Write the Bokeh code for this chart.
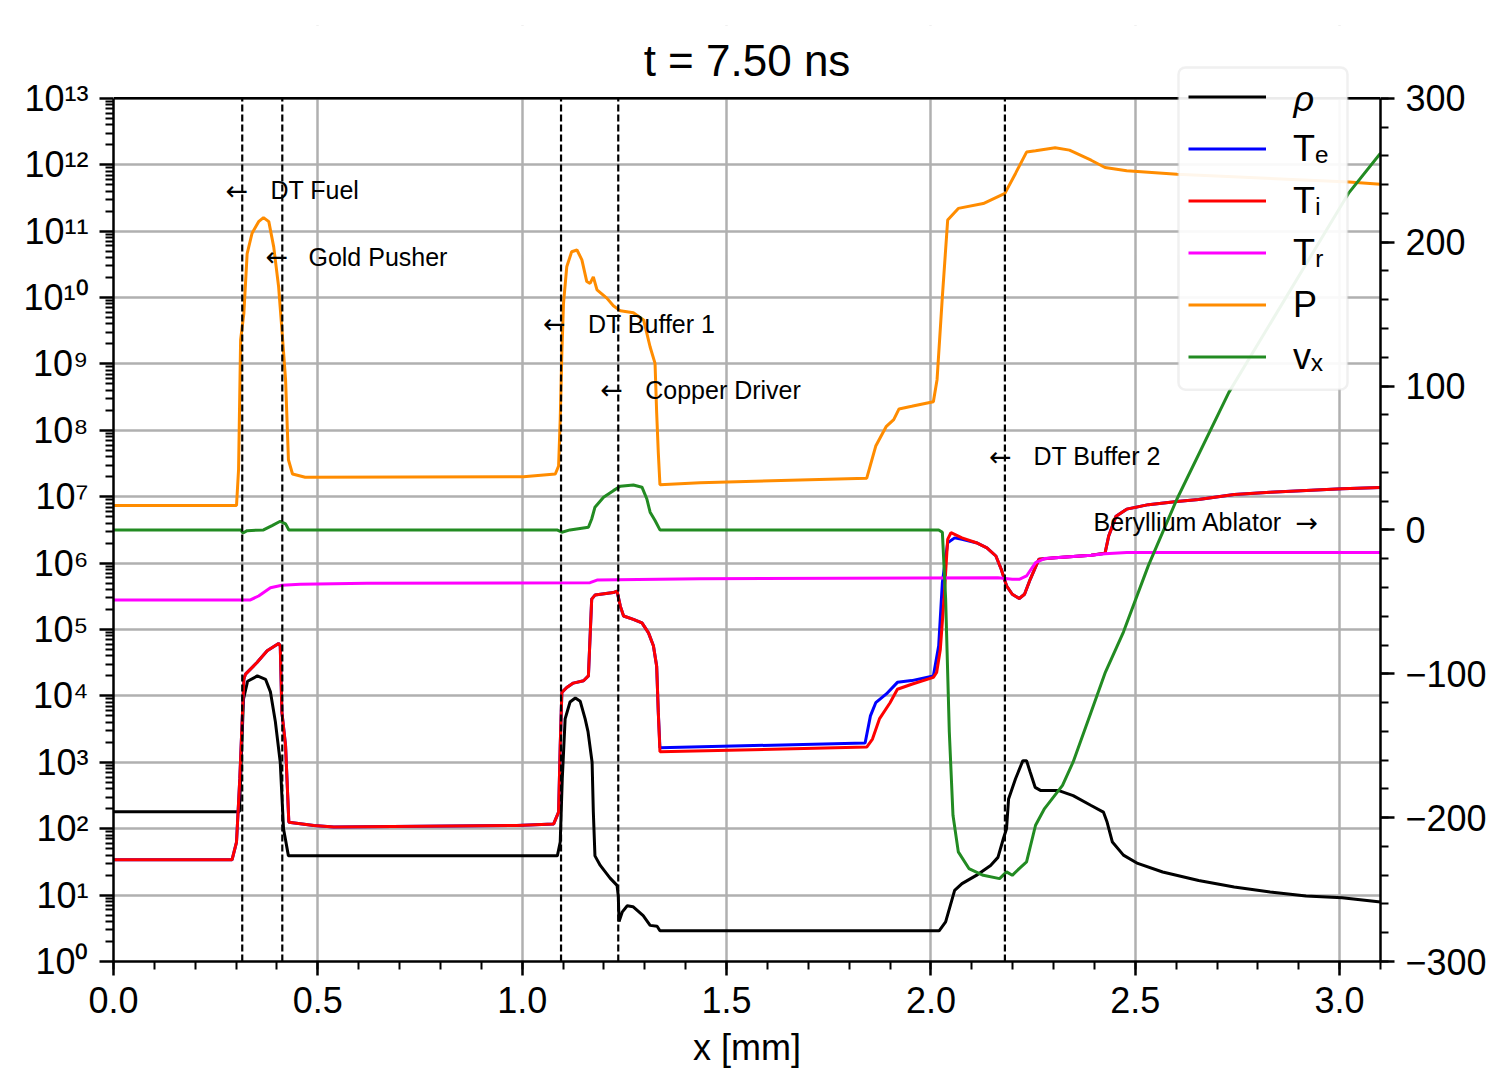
from bokeh.plotting import figure
from bokeh.models import (Range1d, LinearAxis, LinearScale, FixedTicker, Span, Legend,
                          LegendItem, BoxAnnotation, Label)
from bokeh.core.properties import value
from bokeh.embed import file_html
from bokeh.resources import INLINE

# ---------------- data ----------------
rho_x = [0.0, 0.298, 0.308, 0.318, 0.328, 0.352, 0.372, 0.384, 0.396, 0.408, 0.416, 0.428,
         1.086, 1.093, 1.098, 1.105, 1.117, 1.130, 1.142, 1.154, 1.161, 1.171, 1.174, 1.178,
         1.191, 1.215, 1.232, 1.235, 1.237, 1.245, 1.257, 1.271, 1.296, 1.313, 1.330, 1.337,
         2.020, 2.036, 2.058, 2.076, 2.111, 2.146, 2.164, 2.177, 2.185, 2.190, 2.207, 2.225,
         2.234, 2.243, 2.255, 2.269, 2.313, 2.348, 2.392, 2.422, 2.431, 2.444, 2.471, 2.506,
         2.567, 2.655, 2.742, 2.830, 2.918, 3.006, 3.100]
rho_y = [180, 180, 180, 8.9e3, 1.66e4, 2.0e4, 1.78e4, 1.15e4, 4.1e3, 1.0e3, 100, 39,
         39, 63, 560, 4.5e3, 8.1e3, 9.3e3, 8.3e3, 4.5e3, 2.9e3, 1.0e3, 180, 39,
         28, 18, 14, 9.8, 4.0, 5.6, 6.9, 6.7, 4.9, 3.5, 3.4, 2.9,
         2.9, 3.95, 11.8, 14.9, 19.8, 28, 37, 70, 100, 280, 565, 1.06e3,
         1.06e3, 710, 420, 375, 375, 315, 224, 178, 126, 63, 40, 30,
         22.3, 16.6, 13.2, 11.1, 9.7, 9.1, 7.9]

Ti_x = [0.0, 0.290, 0.301, 0.309, 0.319, 0.323, 0.351, 0.376, 0.404, 0.408, 0.412, 0.421,
        0.429, 0.490, 0.539, 0.987, 1.077, 1.089, 1.093, 1.097, 1.109, 1.125, 1.150, 1.162,
        1.170, 1.178, 1.223, 1.232, 1.240, 1.248, 1.272, 1.293, 1.309, 1.321, 1.329, 1.333,
        1.337, 1.843, 1.857, 1.874, 1.900, 1.918, 1.953, 2.006, 2.014, 2.023, 2.032, 2.041,
        2.049, 2.076, 2.111, 2.137, 2.159, 2.172, 2.185, 2.199, 2.216, 2.229, 2.243, 2.264,
        2.304, 2.392, 2.426, 2.435, 2.453, 2.479, 2.532, 2.602, 2.655, 2.742, 2.830, 3.006,
        3.100]
Ti_y = [34, 34, 63, 562, 1.79e4, 2.13e4, 3.18e4, 4.79e4, 6.17e4, 5.66e4, 5.7e3, 1.78e3,
        125, 112, 106, 112, 118, 178, 1.78e3, 1.13e4, 1.34e4, 1.56e4, 1.69e4, 2.0e4,
        2.87e5, 3.3e5, 3.6e5, 3.8e5, 2.25e5, 1.6e5, 1.42e5, 1.26e5, 8.9e4, 5.7e4, 2.8e4, 5.6e3,
        1.44e3, 1.7e3, 2.24e3, 4.5e3, 7.9e3, 1.26e4, 1.5e4, 1.9e4, 2.25e4, 5.0e4, 2.87e5, 2.28e6,
        2.87e6, 2.4e6, 2.03e6, 1.7e6, 1.28e6, 8.1e5, 4.55e5, 3.4e5, 2.93e5, 3.4e5, 5.7e5, 1.14e6,
        1.2e6, 1.31e6, 1.41e6, 2.56e6, 5.1e6, 6.5e6, 7.6e6, 8.5e6, 9.1e6, 1.08e7, 1.17e7, 1.32e7,
        1.38e7]

Te_x = [0.0, 0.290, 0.301, 0.309, 0.319, 0.323, 0.351, 0.376, 0.404, 0.408, 0.412, 0.421,
        0.429, 0.490, 0.539, 0.987, 1.077, 1.089, 1.093, 1.097, 1.109, 1.125, 1.150, 1.162,
        1.170, 1.178, 1.223, 1.232, 1.240, 1.248, 1.272, 1.293, 1.309, 1.321, 1.329, 1.333,
        1.337, 1.839, 1.852, 1.865, 1.891, 1.918, 1.953, 2.006, 2.019, 2.028, 2.041, 2.058,
        2.076, 2.111, 2.137, 2.159, 2.172, 2.185, 2.199, 2.216, 2.229, 2.243, 2.264,
        2.304, 2.392, 2.426, 2.435, 2.453, 2.479, 2.532, 2.602, 2.655, 2.742, 2.830, 3.006,
        3.100]
Te_y = [34, 34, 63, 562, 1.79e4, 2.13e4, 3.18e4, 4.79e4, 6.17e4, 5.66e4, 5.7e3, 1.78e3,
        125, 112, 106, 112, 118, 178, 1.78e3, 1.13e4, 1.34e4, 1.56e4, 1.69e4, 2.0e4,
        2.87e5, 3.3e5, 3.6e5, 3.8e5, 2.25e5, 1.6e5, 1.42e5, 1.26e5, 8.9e4, 5.7e4, 2.8e4, 5.6e3,
        1.66e3, 1.95e3, 5.0e3, 7.9e3, 1.07e4, 1.6e4, 1.7e4, 2.0e4, 5.7e4, 5.1e5, 2.03e6, 2.4e6,
        2.28e6, 2.03e6, 1.7e6, 1.28e6, 8.1e5, 4.55e5, 3.4e5, 2.93e5, 3.4e5, 5.7e5, 1.14e6,
        1.2e6, 1.31e6, 1.41e6, 2.56e6, 5.1e6, 6.5e6, 7.6e6, 8.5e6, 9.1e6, 1.08e7, 1.17e7, 1.32e7,
        1.38e7]

Tr_x = [0.0, 0.335, 0.355, 0.384, 0.412, 0.457, 0.620, 1.166, 1.183, 1.435,
        2.164, 2.199, 2.216, 2.234, 2.256, 2.278, 2.392, 2.426, 2.479, 3.100]
Tr_y = [2.79e5, 2.79e5, 3.2e5, 4.27e5, 4.63e5, 4.79e5, 4.97e5, 5.08e5, 5.56e5, 5.83e5,
        6.0e5, 5.7e5, 5.7e5, 6.4e5, 1.02e6, 1.17e6, 1.31e6, 1.38e6, 1.44e6, 1.45e6]

P_x = [0.0, 0.301, 0.306, 0.311, 0.319, 0.327, 0.339, 0.355, 0.367, 0.380, 0.392, 0.404,
       0.412, 0.421, 0.428, 0.438, 0.469, 1.003, 1.081, 1.089, 1.093, 1.097, 1.101, 1.109,
       1.121, 1.134, 1.146, 1.158, 1.166, 1.174, 1.183, 1.207, 1.223, 1.240, 1.272, 1.297,
       1.313, 1.325, 1.329, 1.333, 1.337, 1.435, 1.843, 1.865, 1.891, 1.909, 1.922, 1.953,
       2.006, 2.015, 2.028, 2.041, 2.067, 2.128, 2.181, 2.207, 2.234, 2.256, 2.304, 2.339,
       2.392, 2.426, 2.479, 2.602, 3.023, 3.100]
P_y = [7.4e6, 7.4e6, 2.57e7, 2.3e9, 5.8e9, 4.6e10, 9.3e10, 1.39e11, 1.6e11, 1.39e11, 5.8e10, 1.45e10,
       3.3e9, 5.8e8, 3.6e7, 2.2e7, 1.96e7, 2.0e7, 2.2e7, 2.9e7, 1.45e8, 1.45e9, 8.1e9, 2.9e10,
       4.9e10, 5.2e10, 3.7e10, 1.74e10, 1.63e10, 2.05e10, 1.3e10, 9.8e9, 7.5e9, 6.3e9, 5.9e9, 4.6e9,
       1.8e9, 1.02e9, 1.82e8, 4.6e7, 1.52e7, 1.62e7, 1.9e7, 5.8e7, 1.15e8, 1.45e8, 2.1e8, 2.3e8,
       2.7e8, 5.8e8, 1.03e10, 1.47e11, 2.2e11, 2.6e11, 3.7e11, 7.4e11, 1.55e12, 1.62e12, 1.8e12, 1.66e12,
       1.17e12, 9.1e11, 8.1e11, 7.2e11, 5.5e11, 5.1e11]

vx_x = [0.0, 0.311, 0.317, 0.327, 0.367, 0.388, 0.408, 0.421, 0.429, 1.085, 1.097, 1.117,
        1.162, 1.170, 1.178, 1.199, 1.223, 1.240, 1.272, 1.293, 1.305, 1.313, 1.325, 1.337,
        2.019, 2.028, 2.036, 2.045, 2.054, 2.067, 2.093, 2.128, 2.168, 2.185, 2.199, 2.216,
        2.234, 2.256, 2.278, 2.322, 2.348, 2.392, 2.427, 2.471, 2.532, 2.602, 2.729, 3.023,
        3.100]
vx_y = [0, 0, -2.1, -0.5, 0, 3.0, 6.0, 4.2, 0, 0, -1.6, 0,
        1.9, 7.6, 15.8, 22.7, 27.3, 30.3, 31.2, 29.7, 21.5, 12.3, 6.5, 0,
        0, -1.6, -47.9, -140.5, -198.4, -223.8, -235.4, -240.1, -242.4, -237.7, -240.1, -235.4,
        -230.8, -205.3, -193.7, -177.6, -161.3, -126.6, -98.8, -71.0, -24.8, 21.5, 95.6, 234.5,
        261.8]

# material boundaries (dashed lines)
boundary_x = [0.315, 0.413, 1.095, 1.235, 2.181]

# region annotations
ann_names = ["DT Fuel", "Gold Pusher", "DT Buffer 1", "Copper Driver", "DT Buffer 2"]
ann_arrow_x = [0.274, 0.372, 1.051, 1.191, 2.142]
ann_text_x = [0.384, 0.477, 1.161, 1.301, 2.251]
ann_y = [4.1e11, 4.1e10, 4.0e9, 4.1e8, 4.1e7]
abl_name = "Beryllium Ablator"
abl_text_x = 2.398
abl_arrow_x = 2.892
abl_y = 4.1e6

# ticks and labels
x_ticks = [0.0, 0.5, 1.0, 1.5, 2.0, 2.5, 3.0]
x_tick_labels = ["0.0", "0.5", "1.0", "1.5", "2.0", "2.5", "3.0"]
y_exponents = list(range(0, 14))
y_tick_labels = ["10⁰", "10¹", "10²", "10³", "10⁴", "10⁵", "10⁶", "10⁷",
                 "10⁸", "10⁹", "10¹⁰", "10¹¹", "10¹²", "10¹³"]
v_ticks = [-300, -200, -100, 0, 100, 200, 300]
v_tick_labels = ["−300", "−200", "−100", "0", "100", "200", "300"]

series_labels = ["ρ", "Tₑ", "Tᵢ", "Tᵣ", "P", "vₓ"]
series_colors = ["black", "#0000ff", "#ff0000", "#ff00ff", "#ff8c00", "#228b22"]

title_text = "t = 7.50 ns"
x_label = "x [mm]"

# ---------------- layout constants ----------------
FONT = "Liberation Sans"
W, H = 1503, 1070
B_LEFT, B_RIGHT, B_TOP, B_BOTTOM = 113, 123, 25, 107
FRAME_H = H - B_TOP - B_BOTTOM          # drawing frame (extends above the axes box)
AX_H = 865                               # height of the visible axes box
Y_LO, Y_HI = 1.0, 1e13
V_LO, V_HI = -300.0, 300.0
y_top = 10 ** (13.0 * FRAME_H / AX_H)    # range end so that 1e13 sits at the box top
v_top = V_LO + (V_HI - V_LO) * FRAME_H / AX_H

p = figure(width=W, height=H,
           x_range=Range1d(0, 3.1), y_range=Range1d(Y_LO, y_top), y_axis_type="log",
           output_backend="svg", toolbar_location=None,
           min_border_left=B_LEFT, min_border_right=B_RIGHT,
           min_border_top=B_TOP, min_border_bottom=B_BOTTOM)
p.extra_y_ranges = {"v": Range1d(V_LO, v_top)}
p.extra_y_scales = {"v": LinearScale()}

p.outline_line_color = None
p.background_fill_color = "white"
p.border_fill_color = "white"

xt = FixedTicker(ticks=x_ticks, minor_ticks=[round(i * 0.1, 1) for i in range(32)])
yt = FixedTicker(ticks=[10.0 ** e for e in y_exponents],
                 minor_ticks=[m * 10.0 ** e for e in y_exponents[:-1] for m in range(2, 10)])
vt = FixedTicker(ticks=v_ticks, minor_ticks=list(range(-300, 301, 20)))

p.xaxis.ticker = xt
p.yaxis.ticker = yt
p.yaxis.bounds = (Y_LO, Y_HI)
p.xaxis.major_label_overrides = dict(zip(x_ticks, x_tick_labels))
p.yaxis.major_label_overrides = {10.0 ** e: lab for e, lab in zip(y_exponents, y_tick_labels)}

right = LinearAxis(y_range_name="v", ticker=vt, bounds=(V_LO, V_HI))
right.major_label_overrides = dict(zip(v_ticks, v_tick_labels))
p.add_layout(right, "right")

for ax in [p.xaxis[0], p.yaxis[0], right]:
    ax.axis_line_width = 2.5
    ax.axis_line_color = "black"
    ax.major_tick_line_width = 2.5
    ax.minor_tick_line_width = 2
    ax.major_tick_line_color = "black"
    ax.minor_tick_line_color = "black"
    ax.major_tick_in = 0
    ax.major_tick_out = 14
    ax.minor_tick_in = 0
    ax.minor_tick_out = 8
    ax.major_label_text_font = FONT
    ax.major_label_text_font_size = "36px"
    ax.major_label_text_color = "black"
    ax.major_label_standoff = 8

p.yaxis.major_label_standoff = 11
p.xaxis.major_label_standoff = 11
p.xaxis.axis_label = x_label
p.xaxis.axis_label_text_font = FONT
p.xaxis.axis_label_text_font_size = "36px"
p.xaxis.axis_label_text_font_style = "normal"
p.xaxis.axis_label_text_color = "black"
p.xaxis.axis_label_standoff = 11

p.xgrid.ticker = xt
p.ygrid.ticker = yt
for g in [p.xgrid[0], p.ygrid[0]]:
    g.grid_line_color = "#b0b0b0"
    g.grid_line_width = 2.5

# ---------------- curves ----------------
renderers = []
renderers.append(p.line(rho_x, rho_y, line_color=series_colors[0], line_width=3))
renderers.append(p.line(Te_x, Te_y, line_color=series_colors[1], line_width=3))
renderers.append(p.line(Ti_x, Ti_y, line_color=series_colors[2], line_width=3))
renderers.append(p.line(Tr_x, Tr_y, line_color=series_colors[3], line_width=3))
renderers.append(p.line(P_x, P_y, line_color=series_colors[4], line_width=3))
renderers.append(p.line(vx_x, vx_y, line_color=series_colors[5], line_width=3,
                        y_range_name="v"))

# dashed material boundaries, spanning the axes box only
nb = len(boundary_x)
p.segment(x0=boundary_x, y0=[Y_LO] * nb, x1=boundary_x, y1=[Y_HI] * nb,
          line_color="black", line_width=2.2, line_dash="7 3")

# white band above the axes box (hides grid there), then the top spine
p.add_layout(BoxAnnotation(bottom=Y_HI, fill_color="white", fill_alpha=1.0,
                           line_color=None))
p.add_layout(Span(location=Y_HI, dimension="width", line_color="black", line_width=2.5))

# title, drawn inside the drawing frame above the axes box
p.add_layout(Label(x=1.55, y=10 ** 13.57, text=title_text, text_align="center",
                   text_baseline="middle", text_font=FONT, text_font_size="44px",
                   text_color="black"))

# ---------------- annotations ----------------
txt_kw = dict(text_font=value(FONT), text_font_size="25px", text_color="black",
              text_baseline="middle", text_align="left")
arr_kw = dict(text_font=value("DejaVu Sans"), text_font_size="27px", text_color="black",
              text_baseline="middle", text_align="left")
p.text(x=ann_arrow_x, y=ann_y, text=["←"] * len(ann_names), **arr_kw)
p.text(x=ann_text_x, y=ann_y, text=ann_names, **txt_kw)
p.text(x=[abl_text_x], y=[abl_y], text=[abl_name], **txt_kw)
p.text(x=[abl_arrow_x], y=[abl_y], text=["→"], **arr_kw)

# ---------------- legend ----------------
ROW_H, ROW_GAP, PAD = 43, 9, 10
LEG_X, LEG_Y = 1065, 573            # legend box bottom-left, px from the axes box bottom-left
n_rows = len(series_labels)
leg_h = 2 * PAD + n_rows * ROW_H + (n_rows - 1) * ROW_GAP
leg_w = 169
# legend frame drawn as a box (px -> axis coordinates of the same layout)
px_per_mm = 1267 / 3.1
px_per_dec = AX_H / 13.0
box_kw = dict(left=LEG_X / px_per_mm, right=(LEG_X + leg_w) / px_per_mm,
              bottom=10 ** (LEG_Y / px_per_dec), top=10 ** ((LEG_Y + leg_h) / px_per_dec),
              fill_color="white", fill_alpha=0.92, line_color="#cccccc", line_width=2.5)
if "border_radius" in BoxAnnotation.properties():
    box_kw["border_radius"] = 7
p.add_layout(BoxAnnotation(**box_kw))

# first label (rho) in italics, written over the legend box
p.add_layout(Label(x=(LEG_X + PAD + 78 + 27) / px_per_mm,
                   y=10 ** ((LEG_Y + leg_h - PAD - ROW_H / 2) / px_per_dec),
                   text=series_labels[0], text_align="left", text_baseline="middle",
                   text_font=FONT, text_font_size="36px", text_font_style="italic",
                   text_color="black"))

# transparent legend (no border => no padding applied), so offset it by the padding
items = [LegendItem(label=(" " if i == 0 else lab), renderers=[r])
         for i, (lab, r) in enumerate(zip(series_labels, renderers))]
legend = Legend(items=items, location=(LEG_X + PAD, LEG_Y + PAD), margin=0, padding=PAD,
                spacing=ROW_GAP, glyph_width=78, glyph_height=ROW_H, label_height=ROW_H,
                label_standoff=27, label_text_font=FONT, label_text_font_size="36px",
                label_text_color="black",
                border_line_color=None, background_fill_alpha=0.0)
p.add_layout(legend, "center")

open("out.html", "w").write(file_html(p, INLINE))
